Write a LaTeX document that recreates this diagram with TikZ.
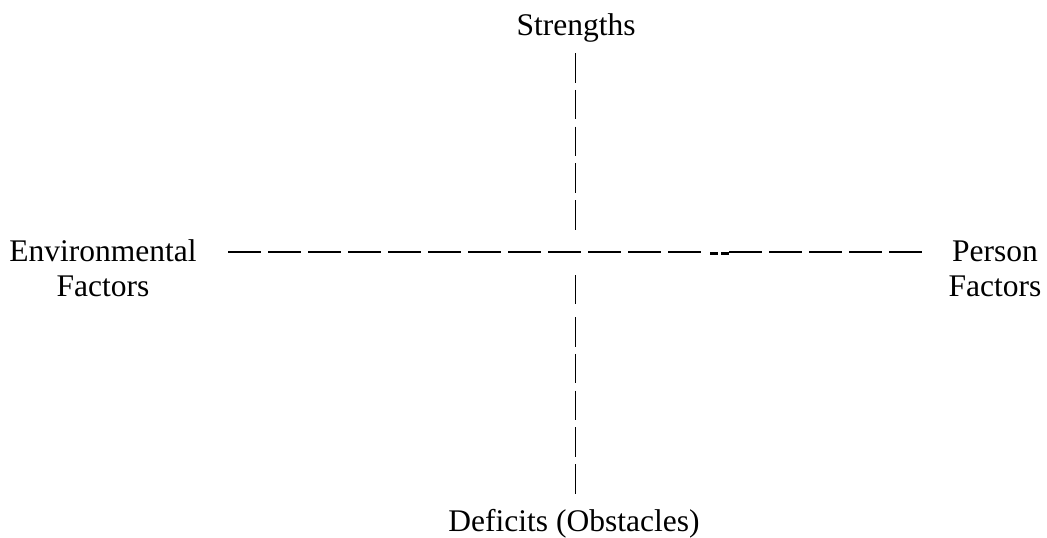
\documentclass[tikz,border=0pt]{standalone}
\usepackage{fontspec}
\setmainfont{Liberation Serif}
\usetikzlibrary{positioning}

\begin{document}
\begin{tikzpicture}[x=1pt, y=-1pt, every node/.style={font=\fontsize{31.5}{35}\selectfont, inner sep=0pt, align=center},
  hdash/.style={line width=1.4pt, dash pattern=on 33pt off 7pt},
  vdash/.style={line width=1.2pt, dash pattern=on 29.5pt off 7.25pt},
  short/.style={line width=2.2pt}]
\useasboundingbox (0,0) rectangle (1047,538);
\node[anchor=base] (str) at (576,35) {Strengths};
\node[anchor=base] (def) at (574,531) {Deficits (Obstacles)};
\node (env) at (103,268.5) {Environmental\\Factors};
\node (per) at (995,268.5) {Person\\Factors};
% horizontal axis
\coordinate (hl) at (228,252);
\coordinate (hm) at (701,252);
\coordinate (hn) at (729,252);
\coordinate (hr) at (922,252);
\coordinate (sa) at (710,253.5);
\coordinate (sb) at (718,253.5);
\coordinate (sc) at (721,253.5);
\coordinate (sd) at (729,253.5);
\draw[hdash] (hl) -- (hm);
\draw[short] (sa) -- (sb);
\draw[short] (sc) -- (sd);
\draw[hdash] (hn) -- (hr);
% vertical axis
\coordinate (vt) at (575.5,53);
\coordinate (vc) at (575.5,229.5);
\coordinate (vb) at (575.5,275);
\coordinate (vd) at (575.5,304);
\coordinate (ve) at (575.5,317);
\coordinate (vf) at (575.5,493.5);
\draw[vdash] (vt) -- (vc);
\draw[line width=1.2pt] (vb) -- (vd);
\draw[vdash] (ve) -- (vf);
\end{tikzpicture}
\end{document}
